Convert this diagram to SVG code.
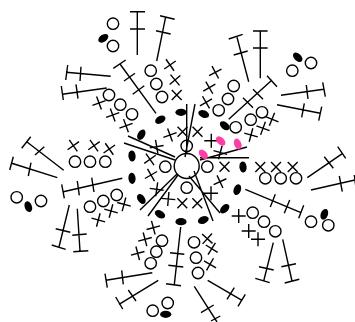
<svg xmlns="http://www.w3.org/2000/svg" width="355" height="322" viewBox="0 0 355 322">
<style>
.s{fill:none;stroke:#000;stroke-width:1.4;stroke-linecap:butt}
.c{fill:none;stroke:#000;stroke-width:1.4}
.f{fill:#000}
.p{fill:#ff3fa8}
</style>
<defs>
<g id="x" class="s"><path d="M-7 0H7M0 -7V7"/></g>
<circle id="o" class="c" r="5.7"/>
<ellipse id="b" class="f" rx="5.6" ry="3.6"/>
<ellipse id="k" class="p" rx="5.6" ry="3.6"/>
</defs>
<rect width="355" height="322" fill="#fff"/>
<g id="spokes" class="s">
<path d="M186.7 104V153M195 104L185 157"/>
<path d="M249 157.7H200M247 147L200 160"/>
<path d="M128 136L175 157M124 143L175 160"/>
<path d="M140 210L177 174M148 216L178 175"/>
<path d="M213 221L194 171M220 213L189 176"/>
<circle cx="186.7" cy="166" r="12.5"/>
</g>
<g id="stitches" class="s">
<path d="M137.3 55V11.7M130 11.7H145M130 29H145"/>
<path d="M156.7 61L165.7 16.7M160 15.7L174.7 19.3M156 30.7L170.7 34"/>
<path d="M156 113.3L120 64M113.3 68.3L125.7 60M124 81L135 73.3M132.7 94.3L144.3 85.7"/>
<path d="M110.7 76.3L66 72.3M67.7 65L65.7 80M81 66.7L80 81"/>
<path d="M106.7 88L62.3 94.3M61.3 86L63.3 100M76 84.3L78 98.7"/>
<path d="M63.7 170.3L26.7 141.7M21.7 148.3L30.7 136.7M35 155L44.3 146.7"/>
<path d="M57.3 177.7L11 163M13.3 156.7L9.7 170M28.3 176L31 162.7"/>
<path d="M122.3 178.3L63.3 191.7M61.7 184.3L64.3 198.3M77.3 181L79.3 195.3M91.7 177.7L94 192"/>
<path d="M69.3 205L59 247M51.7 245L65.7 249.3M55.7 228.7L70.3 232.3"/>
<path d="M77.3 208.7L80 251M73.3 251.7L88.3 250.7M72.3 235.3L86.7 234"/>
<path d="M152.3 272.7L106 280.3M105 273.7L107.3 287.7M121.7 270.3L123.3 284.3"/>
<path d="M158.3 280.3L119 304.3M115.7 297L122.7 309M128.3 290L136 301"/>
<path d="M180.7 227L174.3 284.7M166 283.7L181 285.7M170 252.7L184.3 254.3M168.3 265.3L183.3 267"/>
<path d="M194.3 286.3L217 322M211 321L220.3 316M201 312.7L213.7 305"/>
<path d="M207.7 280.3L242 300.3M238 306.3L245.3 294.3M227 299.3L234.3 287.7"/>
<path d="M273.3 242.7L263.7 281M255.3 278.3L269.7 282.7M259 266.7L273.7 270"/>
<path d="M282.7 239.3L292 281M284.7 283L299.3 279.3M281.3 266.7L296 263.7"/>
<path d="M245.3 189.3L301 212.7M303.7 205.3L298.7 218.3M275.3 194.3L270.3 207M289.7 200L284.3 213.3"/>
<path d="M307.3 177.7L342.7 153.3M337.7 146.7L345.7 158.3M324.3 156.7L333.3 168.3"/>
<path d="M311 190L355 180M354.3 175L356 188M339.3 176L342.3 191.7"/>
<path d="M281 95.3L323.7 89.3M322.7 82.3L325.3 96.7M306.3 85L308 99"/>
<path d="M277 104.7L320.3 113.3M321.7 106.7L318.7 120.7M304.3 103.3L301.7 117.3"/>
<path d="M228.7 119.3L272 80M267 75.7L277 86.7M253 89.3L263 99.3M243 97.7L253 107.7"/>
<path d="M260.3 78.3V31M253 31H267.6M253 48H267.6"/>
<path d="M248.7 81.7L237 37.3M228.7 39L242.7 34.3M233.7 55L247.7 51"/>
</g>
<g id="crosses">
<use href="#x" transform="translate(170 65) rotate(55)"/>
<use href="#x" transform="translate(175 80) rotate(50)"/>
<use href="#x" transform="translate(176.7 95) rotate(45)"/>
<use href="#x" transform="translate(99 103) rotate(-20)"/>
<use href="#x" transform="translate(112.7 115) rotate(-20)"/>
<use href="#x" transform="translate(126 125.7) rotate(-20)"/>
<use href="#x" transform="translate(170 135) rotate(-20)"/>
<use href="#x" transform="translate(156.7 146.7) rotate(-10)"/>
<use href="#x" transform="translate(150 159.3) rotate(-35)"/>
<use href="#x" transform="translate(151 175) rotate(-30)"/>
<use href="#x" transform="translate(156.7 189.3) rotate(8)"/>
<use href="#x" transform="translate(168.3 199) rotate(5)"/>
<use href="#x" transform="translate(182.3 203.3) rotate(45)"/>
<use href="#x" transform="translate(197.3 203.3) rotate(45)"/>
<use href="#x" transform="translate(211 193.3)"/>
<use href="#x" transform="translate(220 181.7) rotate(-25)"/>
<use href="#x" transform="translate(224.5 166.7) rotate(45)"/>
<use href="#x" transform="translate(182.5 131.7) rotate(45)"/>
<use href="#x" transform="translate(197.5 131.7) rotate(45)"/>
<use href="#x" transform="translate(211.3 140.7)"/>
<use href="#x" transform="translate(220.3 152.5) rotate(15)"/>
<use href="#x" transform="translate(251 135) rotate(15)"/>
<use href="#x" transform="translate(263 128.3) rotate(20)"/>
<use href="#x" transform="translate(272 119.3) rotate(22)"/>
<use href="#x" transform="translate(215.3 72.3) rotate(-28)"/>
<use href="#x" transform="translate(209.3 87.7) rotate(-30)"/>
<use href="#x" transform="translate(206 102.3) rotate(-30)"/>
<use href="#x" transform="translate(73.3 145.7) rotate(-35)"/>
<use href="#x" transform="translate(94 145.7) rotate(-35)"/>
<use href="#x" transform="translate(109.3 149) rotate(-35)"/>
<use href="#x" transform="translate(260.3 167) rotate(45)"/>
<use href="#x" transform="translate(276 167) rotate(45)"/>
<use href="#x" transform="translate(292.7 167) rotate(45)"/>
<use href="#x" transform="translate(98.3 220) rotate(15)"/>
<use href="#x" transform="translate(111 211) rotate(15)"/>
<use href="#x" transform="translate(124 204.3) rotate(15)"/>
<use href="#x" transform="translate(153.3 227.7) rotate(-15)"/>
<use href="#x" transform="translate(145 239.3) rotate(-15)"/>
<use href="#x" transform="translate(137.7 253.3) rotate(-15)"/>
<use href="#x" transform="translate(238.7 216)"/>
<use href="#x" transform="translate(248.7 231)"/>
<use href="#x" transform="translate(258 239.3)"/>
<use href="#x" transform="translate(207.3 238.7) rotate(42)"/>
<use href="#x" transform="translate(211.7 248.7) rotate(32)"/>
<use href="#x" transform="translate(210 264.3) rotate(30)"/>
</g>
<g id="rings">
<use href="#o" x="186.7" y="146"/><use href="#o" x="165.3" y="166.7"/><use href="#o" x="207.3" y="166.7"/><use href="#o" x="186.7" y="187.7"/>
<use href="#o" x="113" y="23.7"/><use href="#o" x="113" y="46"/><use href="#o" x="150.7" y="70.7"/><use href="#o" x="156.3" y="84"/><use href="#o" x="162" y="97"/>
<use href="#o" x="109" y="95"/><use href="#o" x="120.3" y="104.7"/><use href="#o" x="132" y="114.3"/>
<use href="#o" x="75" y="161.7"/><use href="#o" x="90" y="161.7"/><use href="#o" x="105.3" y="161.7"/>
<use href="#o" x="311" y="63"/><use href="#o" x="292.3" y="70.7"/><use href="#o" x="233.7" y="86"/><use href="#o" x="228" y="99"/><use href="#o" x="218.7" y="110.3"/>
<use href="#o" x="262" y="112.3"/><use href="#o" x="250.7" y="119.7"/><use href="#o" x="235.7" y="127.3"/>
<use href="#o" x="16.7" y="197.3"/><use href="#o" x="41" y="201"/><use href="#o" x="116.7" y="195"/><use href="#o" x="103.3" y="201"/><use href="#o" x="90" y="206.7"/>
<use href="#o" x="162" y="240.7"/><use href="#o" x="156.3" y="251.7"/><use href="#o" x="150.7" y="263.3"/><use href="#o" x="152.7" y="310.7"/><use href="#o" x="167.7" y="303"/>
<use href="#o" x="265.3" y="178.3"/><use href="#o" x="280.7" y="178.3"/><use href="#o" x="296" y="178.3"/>
<use href="#o" x="252.7" y="212.7"/><use href="#o" x="264" y="221.7"/><use href="#o" x="275.3" y="231.3"/><use href="#o" x="311" y="221.7"/><use href="#o" x="328.3" y="225.3"/>
<use href="#o" x="194" y="242.3"/><use href="#o" x="196" y="257.7"/><use href="#o" x="198" y="273"/>
</g>
<g id="beads">
<use href="#b" transform="translate(103.3 38.3) rotate(-35)"/>
<use href="#b" transform="translate(160.3 119.7) rotate(-30)"/>
<use href="#b" transform="translate(141.3 134.7) rotate(-60)"/>
<use href="#b" transform="translate(132 156) rotate(85)"/>
<use href="#b" transform="translate(297.7 57.3) rotate(45)"/>
<use href="#b" transform="translate(203.7 114) rotate(20)"/>
<use href="#b" transform="translate(224.7 125.7) rotate(40)"/>
<use href="#b" transform="translate(181 112.3)"/>
<use href="#b" transform="translate(28.3 206.7) rotate(70)"/>
<use href="#b" transform="translate(132 178.3) rotate(85)"/>
<use href="#b" transform="translate(141.3 199) rotate(55)"/>
<use href="#b" transform="translate(160 214.3) rotate(30)"/>
<use href="#b" transform="translate(165.7 314.3)"/>
<use href="#b" transform="translate(243 167) rotate(85)"/>
<use href="#b" transform="translate(237.3 189.7) rotate(-70)"/>
<use href="#b" transform="translate(224.7 208.7) rotate(-45)"/>
<use href="#b" transform="translate(203.3 220) rotate(-20)"/>
<use href="#b" transform="translate(181 221.7)"/>
<use href="#b" transform="translate(324.3 214.3) rotate(-70)"/>
<use href="#k" transform="translate(220.7 141) rotate(45)"/>
<use href="#k" transform="translate(237.7 144) rotate(70)"/>
<use href="#k" transform="translate(203.3 154.3) rotate(50)"/>
</g>
</svg>
